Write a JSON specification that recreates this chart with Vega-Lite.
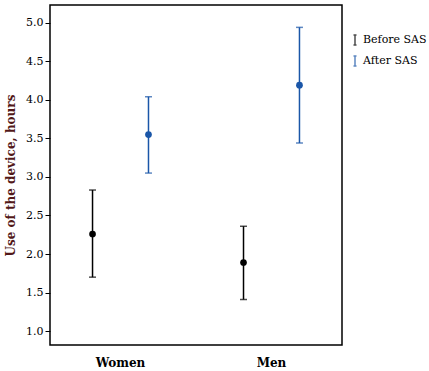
{
  "$schema": "https://vega.github.io/schema/vega-lite/v6.json",
  "width": 292,
  "height": 340,
  "autosize": "none",
  "padding": {"left": 50, "top": 5, "right": 87, "bottom": 26},
  "background": "white",
  "config": {
    "view": {"stroke": "black", "strokeWidth": 1.5},
    "font": "DejaVu Serif"
  },
  "data": {
    "values": [
      {"sex": "Women", "period": "Before SAS", "mean": 2.26, "lo": 1.70, "hi": 2.83},
      {"sex": "Women", "period": "After SAS", "mean": 3.55, "lo": 3.05, "hi": 4.04},
      {"sex": "Men", "period": "Before SAS", "mean": 1.89, "lo": 1.41, "hi": 2.36},
      {"sex": "Men", "period": "After SAS", "mean": 4.19, "lo": 3.44, "hi": 4.94}
    ]
  },
  "encoding": {
    "x": {
      "field": "sex", "type": "nominal", "sort": ["Women", "Men"],
      "scale": {"paddingInner": 0.066, "paddingOuter": 0},
      "axis": {"title": null, "labelAngle": 0, "ticks": false, "domain": false, "labelFontWeight": "bold", "labelFontSize": 12, "labelColor": "black", "labelPadding": 12, "labelFont": "DejaVu Serif"}
    },
    "xOffset": {
      "field": "period", "type": "nominal", "sort": ["Before SAS", "After SAS"],
      "scale": {"paddingOuter": 0.26, "paddingInner": 0}
    },
    "color": {
      "field": "period", "type": "nominal", "sort": ["Before SAS", "After SAS"],
      "scale": {"domain": ["Before SAS", "After SAS"], "range": ["#000000", "#1a56a8"]},
      "legend": {
        "title": null,
        "orient": "none",
        "legendX": 299,
        "legendY": 29,
        "symbolType": "M-0.3,-1H0.3M0,-1V1M-0.3,1H0.3",
        "symbolFillColor": "transparent",
        "symbolStrokeWidth": 1.5,
        "symbolSize": 100,
        "labelFontSize": 11,
        "labelColor": "black",
        "labelFont": "DejaVu Serif",
        "rowPadding": 5,
        "labelOffset": 2,
        "padding": 0
      }
    }
  },
  "layer": [
    {
      "mark": {"type": "rule", "strokeWidth": 1.5},
      "encoding": {
        "y": {
          "field": "lo", "type": "quantitative",
          "scale": {"domain": [0.82, 5.23], "nice": false, "zero": false},
          "axis": {
            "title": "Use of the device, hours",
            "titleFont": "DejaVu Serif",
            "titleFontSize": 12,
            "titleFontWeight": "bold",
            "titleColor": "#521818",
            "titlePadding": 8,
            "values": [1, 1.5, 2, 2.5, 3, 3.5, 4, 4.5, 5],
            "format": ".1f",
            "grid": false,
            "domain": false,
            "tickColor": "black",
            "tickSize": 5,
            "labelFontSize": 11,
            "labelColor": "black",
            "labelFont": "DejaVu Serif"
          }
        },
        "y2": {"field": "hi"}
      }
    },
    {
      "mark": {"type": "tick", "orient": "horizontal", "size": 7, "thickness": 1.5},
      "encoding": {"y": {"field": "lo", "type": "quantitative"}}
    },
    {
      "mark": {"type": "tick", "orient": "horizontal", "size": 7, "thickness": 1.5},
      "encoding": {"y": {"field": "hi", "type": "quantitative"}}
    },
    {
      "mark": {"type": "point", "filled": true, "size": 45, "opacity": 1},
      "encoding": {"y": {"field": "mean", "type": "quantitative"}}
    }
  ]
}
